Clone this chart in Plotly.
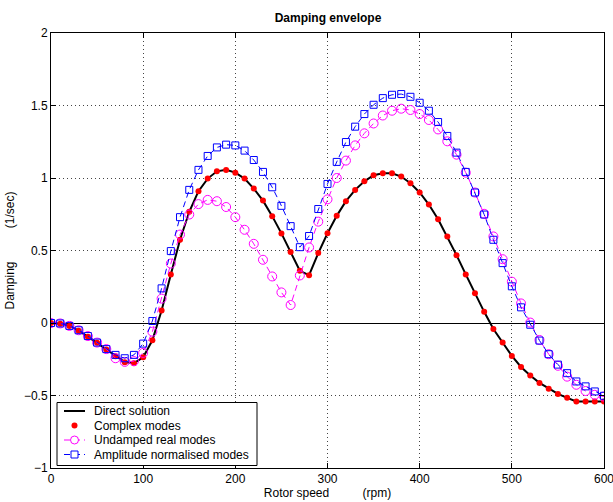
import plotly.graph_objects as go

rpm = list(range(0, 601, 10))

direct_solution = [
    0.000, -0.005, -0.020, -0.053, -0.094, -0.137, -0.183, -0.229, -0.270, -0.277,
    -0.236, -0.119, 0.086, 0.335, 0.574, 0.767, 0.909, 0.996, 1.046, 1.056,
    1.037, 0.996, 0.927, 0.844, 0.737, 0.618, 0.490, 0.360, 0.330, 0.482,
    0.619, 0.739, 0.840, 0.918, 0.977, 1.019, 1.032, 1.032, 1.010, 0.964,
    0.900, 0.817, 0.716, 0.597, 0.468, 0.335, 0.205, 0.077, -0.041, -0.135,
    -0.227, -0.303, -0.362, -0.413, -0.454, -0.489, -0.516, -0.541, -0.541, -0.541,
    -0.541,
]

complex_modes = list(direct_solution)

undamped_real = [
    0.000, -0.003, -0.020, -0.050, -0.090, -0.135, -0.180, -0.243, -0.268, -0.263,
    -0.206, -0.060, 0.168, 0.410, 0.610, 0.748, 0.820, 0.849, 0.840, 0.800,
    0.730, 0.643, 0.546, 0.436, 0.321, 0.211, 0.124, 0.328, 0.521, 0.699,
    0.853, 1.000, 1.120, 1.225, 1.308, 1.376, 1.431, 1.464, 1.478, 1.469,
    1.441, 1.400, 1.335, 1.253, 1.161, 1.037, 0.900, 0.753, 0.597, 0.440,
    0.285, 0.135, 0.003, -0.117, -0.215, -0.295, -0.370, -0.426, -0.469, -0.495,
    -0.507,
]

amplitude_normalised = [
    0.000, -0.003, -0.020, -0.050, -0.090, -0.135, -0.180, -0.220, -0.243, -0.220,
    -0.142, 0.014, 0.239, 0.496, 0.730, 0.918, 1.056, 1.152, 1.211, 1.230,
    1.225, 1.189, 1.124, 1.042, 0.936, 0.808, 0.668, 0.523, 0.600, 0.786,
    0.959, 1.111, 1.248, 1.354, 1.441, 1.505, 1.551, 1.574, 1.579, 1.560,
    1.519, 1.464, 1.386, 1.290, 1.175, 1.042, 0.900, 0.748, 0.574, 0.413,
    0.253, 0.108, -0.012, -0.121, -0.215, -0.287, -0.346, -0.403, -0.437, -0.472,
    -0.502,
]

series_names = ["Direct solution", "Complex modes", "Undamped real modes", "Amplitude normalised modes"]

x_ticks = [0, 100, 200, 300, 400, 500, 600]
y_ticks = [-1, -0.5, 0, 0.5, 1, 1.5, 2]

FONT = "Liberation Sans, Arial, Helvetica, sans-serif"
MAGENTA = "#ff00ff"
BLUE = "#0000ff"
DASH = "6px,4px"

W, H = 613, 502
ML, MR, MT, MB = 51, 9, 33, 34
PW, PH = W - ML - MR, H - MT - MB


def px_x(p):
    return (p - ML) / PW


def px_y(p):
    return (H - MB - p) / PH


fig = go.Figure()
fig.add_trace(go.Scatter(
    x=rpm, y=direct_solution, mode="lines", name=series_names[0],
    line=dict(color="black", width=2),
))
fig.add_trace(go.Scatter(
    x=rpm, y=complex_modes, mode="markers", name=series_names[1],
    marker=dict(color="red", size=6, symbol="circle"),
))
fig.add_trace(go.Scatter(
    x=rpm, y=undamped_real, mode="lines+markers", name=series_names[2],
    line=dict(color=MAGENTA, width=1, dash=DASH),
    marker=dict(symbol="circle-open", size=9, color=MAGENTA, line=dict(width=1)),
))
fig.add_trace(go.Scatter(
    x=rpm, y=amplitude_normalised, mode="lines+markers", name=series_names[3],
    line=dict(color=BLUE, width=1, dash=DASH),
    marker=dict(symbol="square-open", size=7, color=BLUE, line=dict(width=1)),
))

axis_common = dict(
    showline=True, linecolor="black", linewidth=1, mirror="allticks",
    ticks="inside", ticklen=5, tickcolor="black", tickwidth=1,
    showgrid=True, gridcolor="#444444", gridwidth=1, griddash="1px,3px",
    tickfont=dict(family=FONT, size=12, color="black"),
    automargin=False, ticklabeloverflow="allow",
)

fig.update_xaxes(
    range=[0, 600], tickvals=x_ticks, zeroline=False,
    title=dict(text="Rotor speed          (rpm)", font=dict(family=FONT, size=12, color="black"), standoff=2),
    **axis_common,
)
fig.update_yaxes(
    range=[-1, 2], tickvals=y_ticks, zeroline=True, zerolinecolor="black", zerolinewidth=1,
    title=dict(text="Damping          (1/sec)", font=dict(family=FONT, size=12, color="black"), standoff=6),
    **axis_common,
)

# legend (drawn as a boxed key in the lower-left corner of the axes)
shapes = [dict(
    type="rect", xref="paper", yref="paper", layer="above",
    x0=px_x(57), x1=px_x(257), y0=px_y(465.5), y1=px_y(402.5),
    line=dict(color="black", width=1), fillcolor="white",
)]
annotations = []
row_y = [411, 425.5, 440, 454.5]
line_x0, line_x1, mark_x, text_x = 64, 85, 74.5, 92
styles = [
    dict(line=("black", 2, "solid"), marker=None),
    dict(line=None, marker=("dot", "red")),
    dict(line=(MAGENTA, 1, DASH), marker=("circle", MAGENTA)),
    dict(line=(BLUE, 1, DASH), marker=("square", BLUE)),
]
for name, ry, st in zip(series_names, row_y, styles):
    yc = px_y(ry)
    if st["line"]:
        c, w, d = st["line"]
        shapes.append(dict(type="line", xref="paper", yref="paper", layer="above",
                           x0=px_x(line_x0), x1=px_x(line_x1), y0=yc, y1=yc,
                           line=dict(color=c, width=w, dash=d)))
    if st["marker"]:
        kind, c = st["marker"]
        base = dict(xref="paper", yref="paper", layer="above",
                    xsizemode="pixel", ysizemode="pixel",
                    xanchor=px_x(mark_x), yanchor=yc)
        if kind == "dot":
            shapes.append(dict(type="circle", x0=-3, x1=3, y0=-3, y1=3,
                               line=dict(color=c, width=0), fillcolor=c, **base))
        elif kind == "circle":
            shapes.append(dict(type="circle", x0=-4, x1=4, y0=-4, y1=4,
                               line=dict(color=c, width=1), fillcolor="white", **base))
        else:
            shapes.append(dict(type="rect", x0=-3.5, x1=3.5, y0=-3.5, y1=3.5,
                               line=dict(color=c, width=1), fillcolor="white", **base))
    annotations.append(dict(
        x=px_x(text_x), y=yc, xref="paper", yref="paper",
        xanchor="left", yanchor="middle", showarrow=False,
        text=name, font=dict(family=FONT, size=12, color="black"),
    ))

fig.update_layout(
    width=W, height=H,
    margin=dict(l=ML, r=MR, t=MT, b=MB),
    paper_bgcolor="white", plot_bgcolor="white",
    title=dict(text="<b>Damping envelope</b>", x=px_x(328), xref="paper", xanchor="center",
               y=1 - 18 / H, yanchor="middle", font=dict(family=FONT, size=12, color="black")),
    showlegend=False,
    shapes=shapes,
    annotations=annotations,
)

fig.write_html("out.html")
